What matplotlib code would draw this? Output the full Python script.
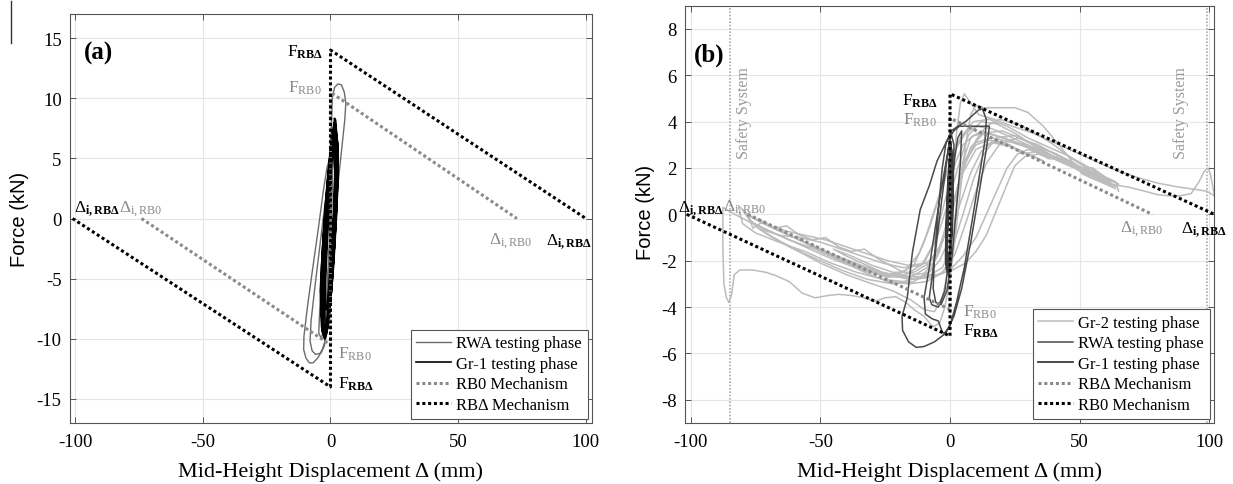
import numpy as np
import matplotlib
matplotlib.use("Agg")
import matplotlib.pyplot as plt
from matplotlib.lines import Line2D

plt.rcParams["font.family"] = ["Liberation Serif", "DejaVu Serif"]
plt.rcParams["mathtext.fontset"] = "custom"
plt.rcParams["mathtext.rm"] = "Liberation Serif"
plt.rcParams["mathtext.it"] = "Liberation Serif:italic"
plt.rcParams["mathtext.bf"] = "Liberation Serif:bold"
plt.rcParams["axes.unicode_minus"] = False

# ---------------- data: panel (a) ----------------
x_ticks_a = [-100, -50, 0, 50, 100]
y_ticks_a = [-15, -10, -5, 0, 5, 10, 15]
rbd_a_x = [-101, 0, 0, 100]
rbd_a_y = [0, -14, 14, 0]
rb0_a_x = [-74, 0, 0, 73]
rb0_a_y = [0, -10.5, 10.5, 0]

rwa_a = [(0, 0), (0.5, 3.5), (1.0, 6.5), (1.4, 7.8), (1.2, 6.0), (0.4, 2.0), (-0.5, -2.5),
         (-1.5, -6.5), (-2.6, -9.2), (-3.6, -10.0), (-4.6, -9.5), (-4.2, -7.5), (-3.0, -4.0),
         (-1.6, 0.0), (-0.4, 3.5), (0.3, 7.0), (0.7, 10.0), (1.6, 10.9), (3.0, 11.2), (4.3, 11.1),
         (5.4, 10.5), (6.0, 9.6), (5.6, 8.2), (4.4, 5.8), (3.2, 3.4), (2.1, 0.8), (1.0, -2.5),
         (0.0, -5.5), (-0.9, -8.0), (-1.9, -10.0), (-3.3, -11.0), (-5.0, -11.6), (-6.8, -12.0),
         (-8.3, -12.0), (-9.6, -11.6), (-10.5, -10.9), (-10.4, -9.8), (-9.0, -7.3), (-7.0, -4.2),
         (-4.8, -0.9), (-2.8, 2.3), (-1.3, 4.3), (-0.3, 5.0), (0.4, 4.0), (0.6, 1.0), (0.2, -2.5),
         (-0.5, -6.0), (-1.3, -9.0), (-2.4, -10.6), (-4.0, -11.2), (-5.8, -11.3), (-7.2, -11.0),
         (-8.0, -10.2), (-7.6, -8.5), (-6.0, -5.5), (-4.0, -2.0), (-2.0, 1.5), (-0.8, 3.5),
         (0.0, 3.8), (0.2, 1.5), (-0.3, -2.0), (-1.0, -5.5), (-1.7, -8.5), (-1.0, -7.5),
         (0.0, -3.0), (0.0, 0.0)]

gr1_a = [(1.6, 8.3), (3.0, 6), (2.9, 3), (2.3, 0), (1.2, -4), (-0.2, -7.5), (-1.5, -9.6),
         (-2.3, -10.0), (-3.5, -9), (-4.0, -6), (-3.0, -2), (-2.0, 1), (-0.6, 4.5), (0.6, 7.2),
         (1.4, 7.8), (2.6, 5.5), (2.3, 2), (1.2, -2), (0.0, -6), (-1.2, -9), (-2.1, -9.6),
         (-3.2, -8.5), (-3.2, -5), (-2.1, -1), (-0.9, 2.5), (0.3, 6),
         (1.8, 8.1), (2.4, 6), (1.9, 2.5), (0.9, -1.5), (-0.3, -5.5), (-1.4, -8.8), (-2.5, -9.9),
         (-2.9, -8.8), (-2.5, -5), (-1.5, -1), (-0.4, 3), (0.7, 6.5),
         (1.2, 7.4), (2.9, 5), (2.6, 1.5), (1.5, -2.5), (0.2, -6.5), (-1.2, -9.2), (-2.0, -9.5),
         (-3.6, -8), (-3.5, -4), (-2.6, -0.5), (-1.3, 3), (0.1, 6),
         (2.0, 8.2), (2.6, 6.5), (2.3, 3), (1.4, -1), (0.2, -5), (-1.0, -8.3), (-1.9, -9.7),
         (-3.0, -9.2), (-2.9, -6), (-2.0, -2), (-0.9, 2), (0.5, 5.8),
         (1.0, 6.0), (1.7, 4), (1.3, 0.5), (0.3, -3), (-0.8, -6), (-1.6, -7.6), (-2.3, -7.0),
         (-2.0, -4), (-1.2, -0.5), (-0.3, 3), (0.5, 5.2),
         (1.5, 8.0), (2.8, 6.2), (2.7, 2.5), (1.8, -1.5), (0.6, -5.5), (-0.8, -8.8), (-2.2, -10.0),
         (-3.3, -9.4), (-3.7, -6.5), (-2.8, -2.5), (-1.6, 1), (-0.3, 4.5),
         (1.3, 7.0), (1.9, 5), (1.5, 1.5), (0.6, -2.5), (-0.4, -6), (-1.3, -8.5), (-2.0, -9.0),
         (-2.3, -8), (-1.8, -4.5), (-1.0, -1), (0.0, 3), (0.8, 5.8), (1.6, 8.3)]

# ---------------- data: panel (b) ----------------
x_ticks_b = [-100, -50, 0, 50, 100]
y_ticks_b = [-8, -6, -4, -2, 0, 2, 4, 6, 8]
rbd_b_x = [-101.5, 0, 0, 102]
rbd_b_y = [0, -5.25, 5.2, 0]
rb0_b_x = [-78, 0, 0, 78]
rb0_b_y = [0, -4.1, 4.15, 0]
safety_x = [-84.8, 99.0]

gr2_b = [
    (0, 0), (3, 1.2), (6, 2.3), (10, 3.0), (15, 3.2), (22, 3.0), (30, 2.6), (36, 2.3),
    (32, 2.5), (24, 2.9), (16, 3.1), (10, 2.8), (5, 1.8), (1, 0.2), (-3, -1.2), (-8, -2.1),
    (-14, -2.5), (-22, -2.5), (-30, -2.2), (-38, -1.8), (-45, -1.5),
    (-40, -1.8), (-32, -2.2), (-24, -2.6), (-16, -2.8), (-9, -2.7), (-3, -2.3), (1, -1.4),
    (5, 0.0), (9, 1.5), (13, 2.6), (18, 3.3), (25, 3.4), (32, 3.0), (40, 2.5), (47, 2.1), (52, 1.8),
    (48, 2.2), (41, 2.6), (34, 2.9), (27, 3.3), (20, 3.6), (13, 3.5), (8, 2.9), (4, 1.6), (0, 0),
    (-4, -1.4), (-9, -2.3), (-15, -2.7), (-24, -2.7), (-34, -2.3), (-46, -1.7), (-56, -1.2),
    (-64, -0.8),
    (-58, -1.1), (-50, -1.6), (-42, -2.0), (-33, -2.5), (-24, -2.9), (-16, -3.0), (-9, -2.9),
    (-3, -2.5), (2, -1.7), (6, -0.4), (10, 1.0), (14, 2.2), (19, 3.0), (26, 3.3), (34, 3.0),
    (42, 2.5), (50, 2.0), (58, 1.6), (64, 1.2),
    (60, 1.5), (53, 1.9), (46, 2.3), (39, 2.7), (32, 3.0), (25, 3.5), (18, 3.9), (12, 4.0),
    (7, 3.4), (3, 2.0), (-1, 0.4), (-5, -1.0), (-10, -2.1), (-17, -2.6), (-26, -2.6),
    (-36, -2.2), (-48, -1.6), (-60, -1.0), (-70, -0.5), (-77, -0.1), (-81.6, 0.37),
    (-80, -0.4), (-75, -0.8), (-66, -1.2), (-56, -1.6), (-46, -2.1), (-36, -2.5), (-26, -2.8),
    (-18, -2.9), (-11, -2.7), (-6, -2.0), (-2, -0.8), (2, 0.8), (6, 2.2), (10, 3.2), (14, 3.8),
    (19, 4.1), (26, 3.9), (33, 3.5), (40, 3.0), (47, 2.4), (54, 1.9), (60, 1.6), (65, 1.3),
    (61, 1.5), (54, 2.0), (46, 2.5), (38, 2.9), (30, 3.3), (22, 3.8), (15, 4.1), (9, 4.0),
    (4, 3.3), (0, 2.2), (-4, 0.8), (-8, -0.6), (-12, -1.7), (-17, -2.4), (-24, -2.7),
    (-34, -2.4), (-46, -1.9), (-58, -1.3), (-68, -0.8), (-76, -0.4), (-83, 0.0), (-87.6, 0.3),
    (-87.6, -1.5), (-87.2, -3.0), (-86.2, -3.6), (-85.3, -3.8), (-84.3, -3.5), (-83.2, -2.6),
    (-81, -2.4), (-76, -2.4), (-71, -2.5), (-67, -2.65), (-62, -2.9), (-57, -3.4), (-52, -3.6),
    (-47, -3.5), (-43, -3.45), (-38, -3.5), (-33, -3.6), (-29, -3.75), (-25, -3.6),
    (-21, -3.55), (-17, -3.8), (-14, -4.1), (-10, -4.4), (-6.6, -4.85), (-4, -4.7), (-2, -4.0),
    (0, -2.8), (2, -1.0), (4, 1.0), (6, 3.0), (8, 4.3), (10, 4.7), (13, 4.6), (18, 4.6),
    (25, 4.6), (30, 4.4), (36, 3.8), (42, 3.0), (47, 2.3), (51, 1.74), (56, 1.5), (62, 1.3),
    (69, 1.17), (75, 1.0), (80, 0.85), (84, 0.8), (89, 0.8), (93, 0.9), (96, 1.4), (98, 1.85),
    (99.5, 2.0), (100.5, 1.7), (101.5, 1.1), (102, 0.8),
    (99, 1.0), (93, 1.1), (87, 1.2), (80, 1.35), (72, 1.6), (64, 1.9), (56, 2.3), (48, 2.7),
    (40, 3.1), (32, 3.5), (24, 3.8), (17, 4.1), (11, 4.3), (8, 4.8), (5.5, 5.2), (4, 4.8),
    (2.5, 3.5), (1, 1.5), (-1, -0.2), (-4, -1.6), (-8, -2.5), (-14, -2.9), (-22, -3.0),
    (-32, -2.8), (-42, -2.4), (-52, -1.9), (-62, -1.4), (-70, -0.9), (-75, -0.5), (-78, -0.1),
    (-80, 0.2),
    (-77, -0.3), (-70, -0.7), (-62, -1.1), (-52, -1.5), (-42, -2.0), (-32, -2.4), (-22, -2.6),
    (-13, -2.7), (-5, -2.6), (1, -2.4), (6, -2.1), (10, -1.6), (14, -0.9), (18, 0.2),
    (22, 1.3), (25, 2.1), (29, 2.5), (34, 2.6), (40, 2.4), (46, 2.1), (52, 1.8), (58, 1.5),
    (64, 1.1),
    (60, 1.3), (54, 1.6), (48, 2.0), (42, 2.3), (36, 2.6), (30, 2.8), (26, 2.6), (22, 2.0),
    (18, 1.0), (14, 0.0), (10, -1.0), (5, -1.8), (0, -2.4), (-6, -2.7), (-14, -2.8),
    (-24, -2.6), (-34, -2.2), (-46, -1.7), (-58, -1.1), (-68, -0.6), (-74, -0.2),
    (-70, -0.5), (-62, -0.9), (-54, -1.3), (-45, -1.8), (-36, -2.2), (-28, -2.5), (-20, -2.6),
    (-14, -2.2), (-10, -1.2), (-6, 0.2), (-2, 1.6), (2, 2.8), (6, 3.5), (10, 3.8), (16, 3.7),
    (24, 3.3), (32, 2.9), (40, 2.5), (48, 2.1), (56, 1.7), (62, 1.4),
    (58, 1.5), (50, 1.9), (42, 2.4), (34, 2.8), (26, 3.1), (18, 3.4), (12, 3.6), (8, 3.3),
    (5, 2.3), (3, 0.8), (1, -1.0), (-1, -2.6), (-3, -3.6), (-6, -4.2), (-10, -4.1),
    (-15, -3.7), (-22, -3.3), (-30, -3.0), (-40, -2.6), (-50, -2.1), (-60, -1.5), (-68, -1.0),
    (-74, -0.6),
    (-66, -0.9), (-58, -1.0), (-50, -1.2), (-42, -1.5), (-34, -1.8), (-26, -2.1), (-18, -2.3),
    (-11, -2.2), (-7, -1.4), (-4, -0.3), (-1, 1.0), (2, 2.2), (5, 3.0), (9, 3.4), (14, 3.5),
    (20, 3.3), (28, 3.0), (36, 2.7), (44, 2.3), (52, 1.9), (60, 1.5),
    (56, 1.7), (48, 2.1), (40, 2.5), (32, 2.8), (24, 3.1), (16, 3.3), (10, 3.1), (6, 2.4),
    (3, 1.2), (0, -0.3), (-4, -1.5), (-9, -2.1), (-16, -2.2), (-24, -2.0), (-32, -1.7),
    (-40, -1.4), (-48, -1.1), (-56, -0.9), (-64, -0.7), (-72, -0.4), (-78, 0.0),
    (-76, -0.6), (-72, -0.3), (-68, -0.6), (-63, -0.5), (-58, -0.9), (-53, -1.1), (-48, -1.0),
    (-43, -1.4), (-38, -1.6), (-33, -1.5), (-28, -1.9), (-23, -2.2), (-18, -2.5), (-13, -2.6),
    (-8, -2.5), (-4, -2.0), (0, -1.0), (4, 0.5), (8, 1.8), (12, 2.7), (17, 3.2), (23, 3.0),
    (28, 2.6), (33, 2.7), (38, 2.4), (44, 2.4), (50, 2.0), (55, 2.0), (60, 1.6), (64, 1.4),
    (65, 1.0)]

rwa_b = [(0, 0), (1.5, 2.2), (3, 3.3), (4.5, 3.6), (4, 2.2), (2.5, 0.3), (0.8, -1.8), (-1.2, -3.3),
         (-3.5, -3.9), (-5.5, -3.8), (-6.5, -3.2), (-6, -1.8), (-4.5, 0.2), (-3, 2), (-1.5, 3.1),
         (0.5, 3.6), (3, 3.8), (6, 4.0), (9, 4.3), (11, 4.5), (12.5, 4.55), (14, 4.1), (13.5, 3.2),
         (11.5, 1.8), (8.5, -0.3), (5.5, -2.3), (2.5, -3.8), (0, -4.8), (-2.5, -5.2), (-6, -5.5),
         (-10, -5.7), (-13, -5.74), (-16, -5.5), (-18.3, -5.0), (-18.5, -4.4), (-16.5, -3.6),
         (-14.5, -1.64), (-11.5, 0.2), (-8, 1.23), (-5, 2.3), (-1.5, 3.1), (1.5, 3.6), (3.6, 3.8),
         (8, 3.8), (12, 3.8), (15.2, 3.8), (14, 2.8), (11, 0.8), (8, -1.2), (4.5, -3.2),
         (1.5, -4.4), (-1.5, -5.1), (-2.9, -5.1), (-4.5, -4.6), (-7, -4.5), (-9.5, -4.3),
         (-10, -3.6), (-8, -2.3), (-6, -0.8), (-3.5, 1.0), (-1, 2.6), (0.4, 3.5), (1.5, 3.0),
         (1.2, 1.0), (0, -1.5), (-2, -3.3), (-4.5, -4.0), (-7, -3.9), (-8, -3.6), (-5.5, -1.5),
         (-3, 0.8), (-1, 2.5), (0, 3.3)]

gr1_b = [(0.3, 3.0), (0.9, 2.0), (0.8, 0.0), (0.2, -1.5), (-0.5, -2.5), (-1.4, -2.4),
         (-1.3, -1.0), (-0.8, 0.8), (-0.2, 2.2), (0.3, 3.0),
         (0.2, 2.6), (0.8, 1.5), (0.5, -0.5), (-0.2, -1.8), (-0.9, -2.3), (-1.6, -1.8),
         (-1.3, -0.3), (-0.6, 1.5), (0.2, 2.6),
         (0.4, 2.9), (1.1, 1.6), (0.9, -0.2), (0.2, -1.6), (-0.6, -2.6), (-1.7, -2.0),
         (-1.5, -0.5), (-0.9, 1.2), (-0.1, 2.5), (0.4, 2.9),
         (0.1, 2.2), (0.6, 1.0), (0.4, -0.8), (-0.3, -2.0), (-1.0, -2.1), (-1.1, -0.8),
         (-0.5, 0.8), (0.1, 2.2),
         (0.5, 2.8), (1.2, 1.2), (0.8, -0.6), (0.0, -2.0), (-0.8, -2.4), (-1.2, -1.5),
         (-0.7, 0.3), (0.0, 1.8), (0.5, 2.8)]

# ---------------- styling ----------------
C_BLACK = "#000000"
C_GRAY = "#8a8a8a"
C_RWA_A = "#6b6b6b"
C_GR2 = "#bcbcbc"
C_RWA_B = "#4a4a4a"
C_GR1_B = "#3a3a3a"
DOT = (0, (1, 0.9))
TICK_FS = 13.5
LBL_FS = 12.5


def style_axes(ax, xlim, ylim, xticks, yticks):
    ax.set_xlim(*xlim)
    ax.set_ylim(*ylim)
    ax.set_xticks(xticks)
    ax.set_yticks(yticks)
    ax.grid(True, color="#e6e6e6", linewidth=0.8)
    ax.set_axisbelow(True)
    ax.tick_params(direction="in", length=4, width=0.7, color="#555555",
                   top=True, right=True, labelsize=TICK_FS, pad=6)
    ax.tick_params(axis="x", pad=7)
    for s in ax.spines.values():
        s.set_color("#555555")
        s.set_linewidth(0.8)


def trace(ax, pts, **kw):
    arr = np.array(pts, dtype=float)
    ax.plot(arr[:, 0], arr[:, 1], **kw)


def F(sub, bold):
    return (r"$\mathrm{F}_{\mathbf{%s}}$" if bold else r"$\mathrm{F}_{\mathrm{%s}}$") % sub


def D(sub, bold):
    return (r"$\Delta_{\mathbf{i,%s}}$" if bold else r"$\Delta_{\mathrm{i,%s}}$") % sub


def add_legend(ax):
    leg = ax.legend(loc="lower right", fontsize=12, frameon=True, fancybox=False,
                    edgecolor="#555555", framealpha=1, handlelength=2.1, borderpad=0.35,
                    labelspacing=0.27, handletextpad=0.3, borderaxespad=0.25)
    leg.get_frame().set_linewidth(0.8)
    return leg


fig = plt.figure(figsize=(12.33, 4.85), dpi=100)

# ================= panel (a) =================
ax1 = fig.add_axes([70 / 1233, 61 / 485, 522 / 1233, 409 / 485])
style_axes(ax1, (-102, 102.4), (-17, 17), x_ticks_a, y_ticks_a)

trace(ax1, rwa_a, color=C_RWA_A, lw=1.0, label="RWA testing phase")
trace(ax1, gr1_a, color=C_BLACK, lw=1.2, label="Gr-1 testing phase")
ax1.plot(rb0_a_x, rb0_a_y, color=C_GRAY, lw=2.2, ls=DOT, dash_capstyle="butt",
         label="RB0 Mechanism")
ax1.plot(rbd_a_x, rbd_a_y, color=C_BLACK, lw=2.2, ls=DOT, dash_capstyle="butt",
         label="RB\u0394 Mechanism")

ax1.text(-96.5, 13.8, "(a)", fontsize=18, fontweight="bold", va="center", ha="left")
ax1.text(-3, 13.9, F(r"RB\Delta", True), fontsize=LBL_FS, ha="right", va="center")
ax1.text(-3.5, 10.9, F("RB0", False), fontsize=LBL_FS, ha="right", va="center", color=C_GRAY)
ax1.text(3, -11.2, F("RB0", False), fontsize=LBL_FS, ha="left", va="center", color=C_GRAY)
ax1.text(3, -13.7, F(r"RB\Delta", True), fontsize=LBL_FS, ha="left", va="center")
ax1.text(-100.5, 0.9, D(r"RB\Delta", True), fontsize=LBL_FS, ha="left", va="center")
ax1.text(-83, 0.9, D("RB0", False), fontsize=LBL_FS, ha="left", va="center", color=C_GRAY)
ax1.text(62, -1.8, D("RB0", False), fontsize=LBL_FS, ha="left", va="center", color=C_GRAY)
ax1.text(84.5, -1.8, D(r"RB\Delta", True), fontsize=LBL_FS, ha="left", va="center")

ax1.set_xlabel("Mid-Height Displacement \u0394 (mm)", fontsize=16, labelpad=8)
add_legend(ax1)

fig.text(20 / 1233, (485 - 219) / 485, "Force (kN)", rotation=90, ha="center", va="center",
         fontsize=14.5, family=["Liberation Sans", "DejaVu Sans"])
fig.add_artist(Line2D([11 / 1233, 11 / 1233], [1 - 2 / 485, 1 - 44 / 485],
                      color="#333333", lw=1.0))

# ================= panel (b) =================
ax2 = fig.add_axes([685 / 1233, 61 / 485, 529 / 1233, 417.3 / 485])
style_axes(ax2, (-102.2, 101.8), (-9, 9), x_ticks_b, y_ticks_b)

for sx in safety_x:
    ax2.axvline(sx, color="#aaaaaa", lw=1.2, ls=(0, (1, 1)))
ax2.text(-79.3, 4.4, "Safety System", rotation=90, fontsize=11.5, color="#9a9a9a",
         ha="center", va="center")
ax2.text(89, 4.4, "Safety System", rotation=90, fontsize=11.5, color="#9a9a9a",
         ha="center", va="center")

trace(ax2, gr2_b, color=C_GR2, lw=1.1, label="Gr-2 testing phase")
trace(ax2, rwa_b, color=C_RWA_B, lw=1.1, label="RWA testing phase")
trace(ax2, gr1_b, color=C_GR1_B, lw=1.3, label="Gr-1 testing phase")
ax2.plot(rb0_b_x, rb0_b_y, color=C_GRAY, lw=2.2, ls=DOT, dash_capstyle="butt",
         label="RB\u0394 Mechanism")
ax2.plot(rbd_b_x, rbd_b_y, color=C_BLACK, lw=2.2, ls=DOT, dash_capstyle="butt",
         label="RB0 Mechanism")

ax2.text(-98.6, 6.9, "(b)", fontsize=18, fontweight="bold", va="center", ha="left")
ax2.text(-4.5, 4.9, F(r"RB\Delta", True), fontsize=LBL_FS, ha="right", va="center")
ax2.text(-5, 4.1, F("RB0", False), fontsize=LBL_FS, ha="right", va="center", color=C_GRAY)
ax2.text(5, -4.2, F("RB0", False), fontsize=LBL_FS, ha="left", va="center", color=C_GRAY)
ax2.text(5, -5.0, F(r"RB\Delta", True), fontsize=LBL_FS, ha="left", va="center")
ax2.text(-105, 0.3, D(r"RB\Delta", True), fontsize=LBL_FS, ha="left", va="center")
ax2.text(-87.5, 0.3, D("RB0", False), fontsize=LBL_FS, ha="left", va="center", color=C_GRAY)
ax2.text(65.5, -0.6, D("RB0", False), fontsize=LBL_FS, ha="left", va="center", color=C_GRAY)
ax2.text(89, -0.6, D(r"RB\Delta", True), fontsize=LBL_FS, ha="left", va="center")

ax2.set_xlabel("Mid-Height Displacement \u0394 (mm)", fontsize=16, labelpad=8)
add_legend(ax2)

fig.text(646 / 1233, (485 - 212) / 485, "Force (kN)", rotation=90, ha="center", va="center",
         fontsize=14.5, family=["Liberation Sans", "DejaVu Sans"])

fig.savefig("out.png", dpi=100)
